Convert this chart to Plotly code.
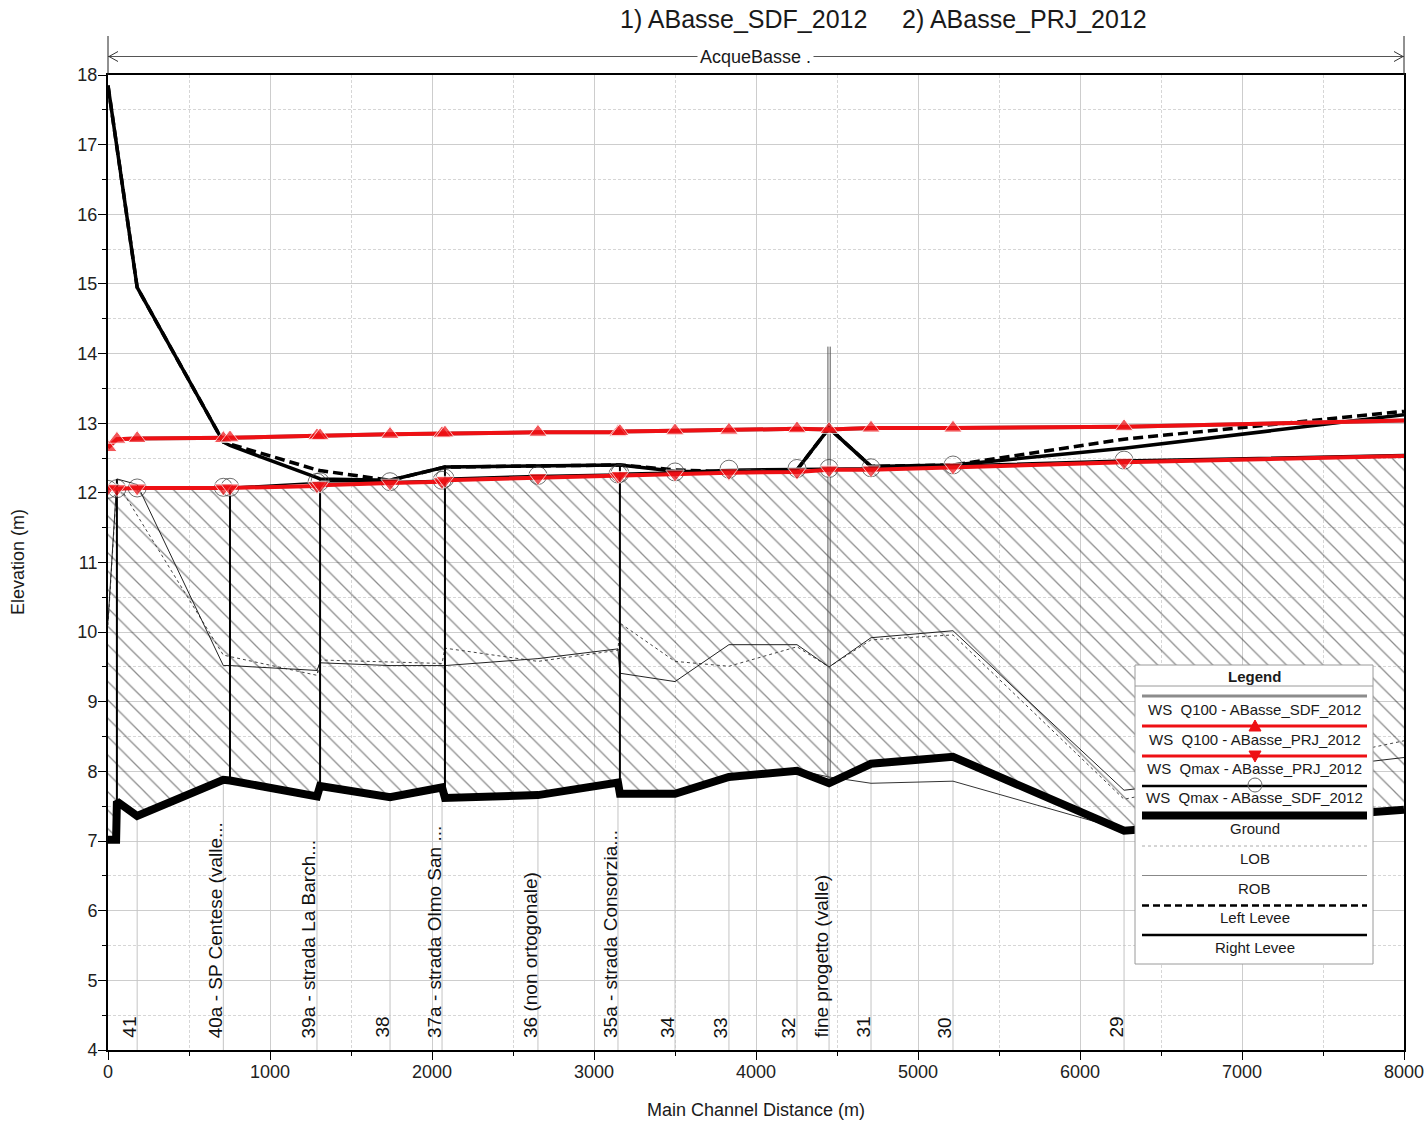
import plotly.graph_objects as go
import numpy as np

# ---------------- data ----------------
ws_st = [0, 55, 180, 712, 753, 1290, 1309, 1741, 2062, 2080, 2654, 3148, 3160,
         3500, 3833, 4253, 4451, 4710, 5216, 6272, 8000]
ws_q100_sdf = [12.65, 12.77, 12.78, 12.78, 12.79, 12.82, 12.82, 12.84, 12.85, 12.86, 12.87,
               12.87, 12.88, 12.89, 12.90, 12.92, 12.91, 12.93, 12.93, 12.95, 13.04]
ws_q100_prj = [12.65, 12.77, 12.78, 12.78, 12.79, 12.82, 12.82, 12.84, 12.85, 12.86, 12.87,
               12.87, 12.88, 12.89, 12.90, 12.92, 12.91, 12.93, 12.93, 12.95, 13.04]
ws_qmax_prj = [12.07, 12.06, 12.07, 12.07, 12.07, 12.10, 12.11, 12.14, 12.16, 12.18, 12.22,
               12.24, 12.25, 12.27, 12.29, 12.30, 12.33, 12.33, 12.37, 12.44, 12.53]
ws_qmax_sdf = [12.05, 12.06, 12.07, 12.08, 12.08, 12.15, 12.16, 12.16, 12.18, 12.21, 12.25,
               12.27, 12.28, 12.30, 12.34, 12.35, 12.35, 12.36, 12.40, 12.47, 12.55]

ground_x = [0, 50, 55, 180, 712, 753, 1290, 1309, 1741, 2062, 2080, 2654, 3148, 3160,
            3500, 3833, 4253, 4451, 4710, 5216, 6272, 8000]
ground_y = [7.02, 7.02, 7.57, 7.36, 7.88, 7.87, 7.64, 7.79, 7.63, 7.77, 7.62, 7.66, 7.84, 7.68,
            7.68, 7.92, 8.01, 7.83, 8.11, 8.21, 7.15, 7.45]

lob_x = [0, 55, 712, 753, 1290, 1309, 2062, 2080, 2654, 3148, 3160, 3500, 3833, 4253,
         4451, 4710, 5216, 6272, 8000]
lob_y = [10.10, 12.15, 9.67, 9.65, 9.38, 9.60, 9.55, 9.77, 9.58, 9.74, 10.13, 9.58, 9.51, 9.79,
         9.50, 9.89, 9.96, 7.60, 8.44]

rob_x = [0, 55, 180, 712, 753, 1290, 1309, 1741, 2062, 2080, 2654, 3148, 3160, 3500, 3833,
         4253, 4451, 4710, 5216, 6272, 8000]
rob_y = [10.15, 12.20, 12.12, 9.52, 9.52, 9.45, 9.56, 9.52, 9.52, 9.52, 9.62, 9.76, 9.41, 9.29,
         9.82, 9.82, 9.50, 9.92, 10.02, 7.73, 8.20]

rob2_x = [4253, 4451, 4710, 5216, 6272]
rob2_y = [8.02, 7.92, 7.83, 7.86, 7.16]

left_levee_x = [0, 180, 712, 753, 1290, 1309, 1741, 2062, 2080, 3148, 3160, 3500, 3833,
                4253, 4451, 4710, 5216, 6272, 8000]
left_levee_y = [17.85, 14.95, 12.73, 12.70, 12.33, 12.32, 12.18, 12.36, 12.37, 12.40, 12.40,
                12.33, 12.30, 12.33, 12.93, 12.38, 12.40, 12.77, 13.17]
right_levee_x = [0, 180, 712, 753, 1290, 1309, 1741, 2062, 2080, 3148, 3160, 3500, 3833,
                 4253, 4451, 4710, 5216, 6272, 8000]
right_levee_y = [17.85, 14.95, 12.73, 12.68, 12.22, 12.20, 12.18, 12.36, 12.37, 12.40, 12.40,
                 12.31, 12.30, 12.33, 12.93, 12.38, 12.40, 12.64, 13.12]

struct_x = [55, 753, 1309, 2080, 3160]
struct_top = [12.20, 12.08, 12.21, 12.37, 12.40]

spike_x = [4444, 4458]
spike_top = 14.1

label_st = [180, 712, 1290, 1741, 2062, 2654, 3148, 3500, 3833, 4253, 4451, 4710, 5216, 6272]
label_txt = ["41", "40a - SP Centese (valle...", "39a - strada La Barch...", "38",
             "37a - strada Olmo San ...", "36 (non ortogonale)", "35a - strada Consorzia...",
             "34", "33", "32", "fine progetto (valle)", "31", "30", "29"]

legend_names = ["WS\u00a0 Q100 - ABasse_SDF_2012", "WS\u00a0 Q100 - ABasse_PRJ_2012",
                "WS\u00a0 Qmax - ABasse_PRJ_2012", "WS\u00a0 Qmax - ABasse_SDF_2012",
                "Ground", "LOB", "ROB", "Left Levee", "Right Levee"]

x_ticks = [0, 1000, 2000, 3000, 4000, 5000, 6000, 7000, 8000]
y_ticks = list(range(4, 19))

# ---------------- layout helpers ----------------
W, H = 1424, 1122
L, R, T, B = 108, 1404, 75, 1050
FONT = "Liberation Sans, Arial, sans-serif"
RED = "rgb(238,16,20)"


def px(xp):
    return (xp - L) / (R - L)


def py(yp):
    return (B - yp) / (B - T)


def g_at(x):
    return float(np.interp(x, ground_x, ground_y))


def text_ann(xp, yp, text, size, **kw):
    d = dict(x=px(xp), y=py(yp), xref="paper", yref="paper", text=text, showarrow=False,
             xanchor="center", yanchor="middle",
             font=dict(family=FONT, size=size, color="#1a1a1a"))
    d.update(kw)
    return d


fig = go.Figure()

# hatched water area between ground and Qmax water surface
poly_x = list(ground_x) + list(ws_st[::-1])
poly_y = list(ground_y) + list(ws_qmax_prj[::-1])
fig.add_trace(go.Scatter(
    x=poly_x, y=poly_y, mode="lines", fill="toself",
    line=dict(width=0, color="rgba(0,0,0,0)"),
    fillcolor="rgba(0,0,0,0)",
    fillpattern=dict(shape="\\", size=13, solidity=0.1, fgcolor="#1a1a1a",
                     bgcolor="rgba(0,0,0,0)"),
    hoverinfo="skip", showlegend=False))

# station lines from axis bottom up to ground
sx, sy = [], []
for s in label_st:
    sx += [s, s, None]
    sy += [4, g_at(s), None]
fig.add_trace(go.Scatter(x=sx, y=sy, mode="lines", line=dict(color="#c4c4c4", width=1),
                         hoverinfo="skip", showlegend=False))

# bank stations
fig.add_trace(go.Scatter(x=rob2_x, y=rob2_y, mode="lines", line=dict(color="#333", width=1),
                         showlegend=False))
fig.add_trace(go.Scatter(x=lob_x, y=lob_y, mode="lines",
                         line=dict(color="#444", width=1, dash="dot"), showlegend=False))
fig.add_trace(go.Scatter(x=rob_x, y=rob_y, mode="lines", line=dict(color="#222", width=1),
                         showlegend=False))

# thin double spike at fine progetto
spx, spy = [], []
for s in spike_x:
    spx += [s, s, None]
    spy += [g_at(s), spike_top, None]
fig.add_trace(go.Scatter(x=spx, y=spy, mode="lines", line=dict(color="#555", width=1),
                         showlegend=False))

# ground
fig.add_trace(go.Scatter(x=ground_x, y=ground_y, mode="lines",
                         line=dict(color="black", width=8), showlegend=False))

# structure verticals
vx, vy = [], []
for s, t in zip(struct_x, struct_top):
    vx += [s, s, None]
    vy += [t, g_at(s), None]
fig.add_trace(go.Scatter(x=vx, y=vy, mode="lines", line=dict(color="black", width=2),
                         showlegend=False))

# levees
fig.add_trace(go.Scatter(x=left_levee_x, y=left_levee_y, mode="lines",
                         line=dict(color="black", width=3.5, dash="10px,5px"),
                         showlegend=False))
fig.add_trace(go.Scatter(x=right_levee_x, y=right_levee_y, mode="lines",
                         line=dict(color="black", width=3.5), showlegend=False))

# water surfaces
n = len(ws_st)
msize = [16] * (n - 1) + [0]
csize = [18] * (n - 1) + [0]
fig.add_trace(go.Scatter(x=ws_st, y=ws_q100_sdf, mode="lines",
                         line=dict(color="#888", width=4), showlegend=False))
fig.add_trace(go.Scatter(x=ws_st, y=ws_q100_prj, mode="lines+markers",
                         line=dict(color=RED, width=4),
                         marker=dict(symbol="triangle-up", size=msize, color=RED),
                         showlegend=False))
fig.add_trace(go.Scatter(x=ws_st, y=ws_qmax_sdf, mode="lines+markers",
                         line=dict(color="black", width=1.5),
                         marker=dict(symbol="circle-open", size=csize, color="#333",
                                     line=dict(width=1, color="#333")),
                         showlegend=False))
fig.add_trace(go.Scatter(x=ws_st, y=ws_qmax_prj, mode="lines+markers",
                         line=dict(color=RED, width=4),
                         marker=dict(symbol="triangle-down", size=msize, color=RED),
                         showlegend=False))

# ---------------- annotations ----------------
ann = []
for s, t in zip(label_st, label_txt):
    ann.append(dict(x=s, y=4, xref="x", yref="y", text=t, textangle=-90, showarrow=False,
                    xanchor="center", yanchor="bottom", xshift=-8, yshift=10,
                    font=dict(family=FONT, size=19, color="#111")))

ann.append(text_ann(883.5, 19, "1) ABasse_SDF_2012\u00a0\u00a0\u00a0\u00a0 2) ABasse_PRJ_2012", 25))
ann.append(text_ann(755, 57, "AcqueBasse .", 18, bgcolor="white", borderpad=2))
ann.append(text_ann(756, 1110, "Main Channel Distance (m)", 18))
ann.append(text_ann(18, 562, "Elevation (m)", 18, textangle=-90))

shapes = []
# distance arrow at top
shapes.append(dict(type="line", xref="paper", yref="paper", x0=px(108), x1=px(1404),
                   y0=py(56.5), y1=py(56.5), line=dict(color="#555", width=1)))
for xe in (108, 1404):
    shapes.append(dict(type="line", xref="paper", yref="paper", x0=px(xe), x1=px(xe),
                       y0=py(36), y1=py(75), line=dict(color="#222", width=1)))
shapes.append(dict(type="path", xref="paper", yref="paper",
                   path=f"M {px(118)},{py(51.5)} L {px(109)},{py(56.5)} L {px(118)},{py(61.5)}",
                   line=dict(color="#333", width=1)))
shapes.append(dict(type="path", xref="paper", yref="paper",
                   path=f"M {px(1394)},{py(51.5)} L {px(1403)},{py(56.5)} L {px(1394)},{py(61.5)}",
                   line=dict(color="#333", width=1)))

# custom legend box
lx0, lx1, ly0, ly1 = 1135, 1373, 665, 964
shapes.append(dict(type="rect", xref="paper", yref="paper", x0=px(lx0), x1=px(lx1),
                   y0=py(ly1), y1=py(ly0), line=dict(color="#9a9a9a", width=1),
                   fillcolor="white", layer="above"))
shapes.append(dict(type="line", xref="paper", yref="paper", x0=px(lx0), x1=px(lx1),
                   y0=py(686), y1=py(686), line=dict(color="#9a9a9a", width=1), layer="above"))
ann.append(text_ann(1254, 676, "<b>Legend</b>", 15))

line_y = [696, 726, 756, 786, 815.5, 846, 875.5, 905.5, 935]
text_y = [709, 739, 768.5, 797.5, 828.5, 858.5, 888, 917.5, 947.5]
line_style = [
    dict(color="#8c8c8c", width=3),
    dict(color=RED, width=3),
    dict(color=RED, width=3),
    dict(color="black", width=2.5),
    dict(color="black", width=8),
    dict(color="#aaa", width=1, dash="dot"),
    dict(color="#888", width=1),
    dict(color="black", width=2.5, dash="7px,4px"),
    dict(color="black", width=2.5),
]
for yl, yt, st, nm in zip(line_y, text_y, line_style, legend_names):
    shapes.append(dict(type="line", xref="paper", yref="paper", x0=px(1142), x1=px(1367),
                       y0=py(yl), y1=py(yl), line=st, layer="above"))
    ann.append(text_ann(1254.5, yt, nm, 15))

cx = 1255
shapes.append(dict(type="path", xref="paper", yref="paper", layer="above",
                   path=f"M {px(cx-6)},{py(731)} L {px(cx+6)},{py(731)} L {px(cx)},{py(720)} Z",
                   fillcolor=RED, line=dict(color=RED, width=1)))
shapes.append(dict(type="path", xref="paper", yref="paper", layer="above",
                   path=f"M {px(cx-6)},{py(751)} L {px(cx+6)},{py(751)} L {px(cx)},{py(762)} Z",
                   fillcolor=RED, line=dict(color=RED, width=1)))
shapes.append(dict(type="circle", xref="paper", yref="paper", layer="above",
                   x0=px(cx-7), x1=px(cx+7), y0=py(792), y1=py(778),
                   line=dict(color="#666", width=1)))

axis_common = dict(ticks="outside", ticklen=8, tickcolor="black", showline=True,
                   linecolor="black", linewidth=2, mirror=True, showgrid=True,
                   gridcolor="#cdcdcd", gridwidth=1, zeroline=False, automargin=False,
                   tickfont=dict(size=18, color="#222"), ticklabeloverflow="allow")

fig.update_layout(
    width=W, height=H,
    margin=dict(l=L, r=W - R, t=T, b=H - B, autoexpand=False),
    paper_bgcolor="white", plot_bgcolor="white",
    font=dict(family=FONT, size=18, color="#222"),
    showlegend=False,
    annotations=ann, shapes=shapes,
    xaxis=dict(range=[0, 8000], tickvals=x_ticks, ticklabelstandoff=-4,
               minor=dict(dtick=500, ticks="outside", ticklen=4, tickcolor="black",
                          showgrid=True, gridcolor="#d6d6d6", griddash="3px,2px"),
               **axis_common),
    yaxis=dict(range=[4, 18], tickvals=y_ticks, ticklabelstandoff=-3,
               minor=dict(dtick=0.5, ticks="outside", ticklen=4, tickcolor="black",
                          showgrid=True, gridcolor="#d6d6d6", griddash="3px,2px"),
               **axis_common),
)

fig.write_html("out.html")
